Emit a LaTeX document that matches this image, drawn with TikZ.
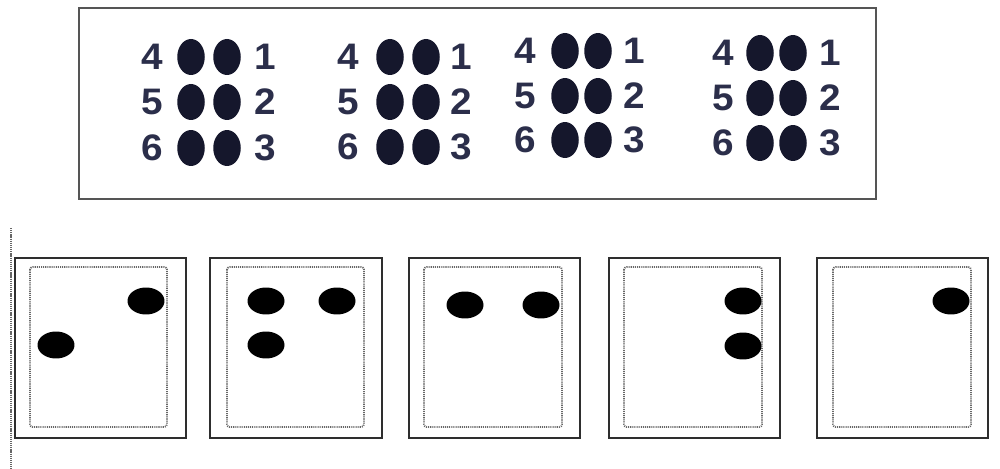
\documentclass[tikz,border=0pt]{standalone}
\usepackage{fontspec}
\newfontfamily\arialfont{Liberation Sans}
\usetikzlibrary{shapes.geometric}
\definecolor{digitcol}{HTML}{2B2E4A}
\definecolor{dotcol}{HTML}{15172C}
\definecolor{framecol}{HTML}{555555}
\definecolor{boxcol}{HTML}{2E2E2E}
\definecolor{dotline}{HTML}{666666}
\tikzset{
  digit/.style={inner sep=0pt, text=digitcol, font=\arialfont\bfseries\fontsize{21}{21}\selectfont},
  topdot/.style={ellipse, fill=dotcol, draw=none, minimum width=0.55cm, minimum height=0.72cm, inner sep=0pt},
  botdot/.style={ellipse, fill=black, draw=none, minimum width=0.74cm, minimum height=0.54cm, inner sep=0pt},
  outerbox/.style={draw=boxcol, line width=1.2pt},
  innerbox/.style={draw=dotline, line width=1pt, dash pattern=on 0.6pt off 0.6pt, rounded corners=1.5pt},
  topframe/.style={draw=framecol, line width=0.9pt},
  guide/.style={draw=dotline, line width=1.3pt, dash pattern=on 0.7pt off 0.5pt}
}
\begin{document}
\begin{tikzpicture}[x=0.02cm, y=-0.02cm]
\useasboundingbox (0,0) rectangle (1000,469);
% top frame
\draw[topframe] (79,8) rectangle (876,199);
% braille groups: l4x, d1x, d2x, l1x, y1, y2, y3
\foreach \g/\la/\da/\db/\lb/\ya/\yb/\yc in {
  1/152/191/227/265/57/102/148,
  2/348/390/426/461/57/102/147,
  3/525/565/598/634/51/96/140,
  4/723/760/793/830/53/98/143}{
  \node[digit] (g\g l4) at (\la,\ya) {\scalebox{1.05}[1]{4}};
  \node[digit] (g\g l5) at (\la,\yb) {\scalebox{1.05}[1]{5}};
  \node[digit] (g\g l6) at (\la,\yc) {\scalebox{1.05}[1]{6}};
  \node[digit] (g\g l1) at (\lb,\ya) {\scalebox{1.05}[1]{1}};
  \node[digit] (g\g l2) at (\lb,\yb) {\scalebox{1.05}[1]{2}};
  \node[digit] (g\g l3) at (\lb,\yc) {\scalebox{1.05}[1]{3}};
  \node[topdot] (g\g d4) at (\da,\ya) {};
  \node[topdot] (g\g d5) at (\da,\yb) {};
  \node[topdot] (g\g d6) at (\da,\yc) {};
  \node[topdot] (g\g d1) at (\db,\ya) {};
  \node[topdot] (g\g d2) at (\db,\yb) {};
  \node[topdot] (g\g d3) at (\db,\yc) {};
}
% vertical dotted guide
\draw[guide] (11,228) -- (11,469);
% bottom cards
\foreach \c/\xa/\xb/\ia/\ib in {1/15/186/30/167, 2/210/382/227/364, 3/409/580/424/562, 4/609/780/624/762, 5/817/988/833/971}{
  \draw[outerbox] (\xa,258) rectangle (\xb,438);
  \draw[innerbox] (\ia,267) rectangle (\ib,427);
}
% dots in cards
\node[botdot] (c1a) at (146,301) {};
\node[botdot] (c1b) at (56,345) {};
\node[botdot] (c2a) at (266,301) {};
\node[botdot] (c2b) at (337,301) {};
\node[botdot] (c2c) at (266,345) {};
\node[botdot] (c3a) at (465,305) {};
\node[botdot] (c3b) at (541,305) {};
\node[botdot] (c4a) at (743,301) {};
\node[botdot] (c4b) at (743,346) {};
\node[botdot] (c5a) at (951,301) {};
\end{tikzpicture}
\end{document}
